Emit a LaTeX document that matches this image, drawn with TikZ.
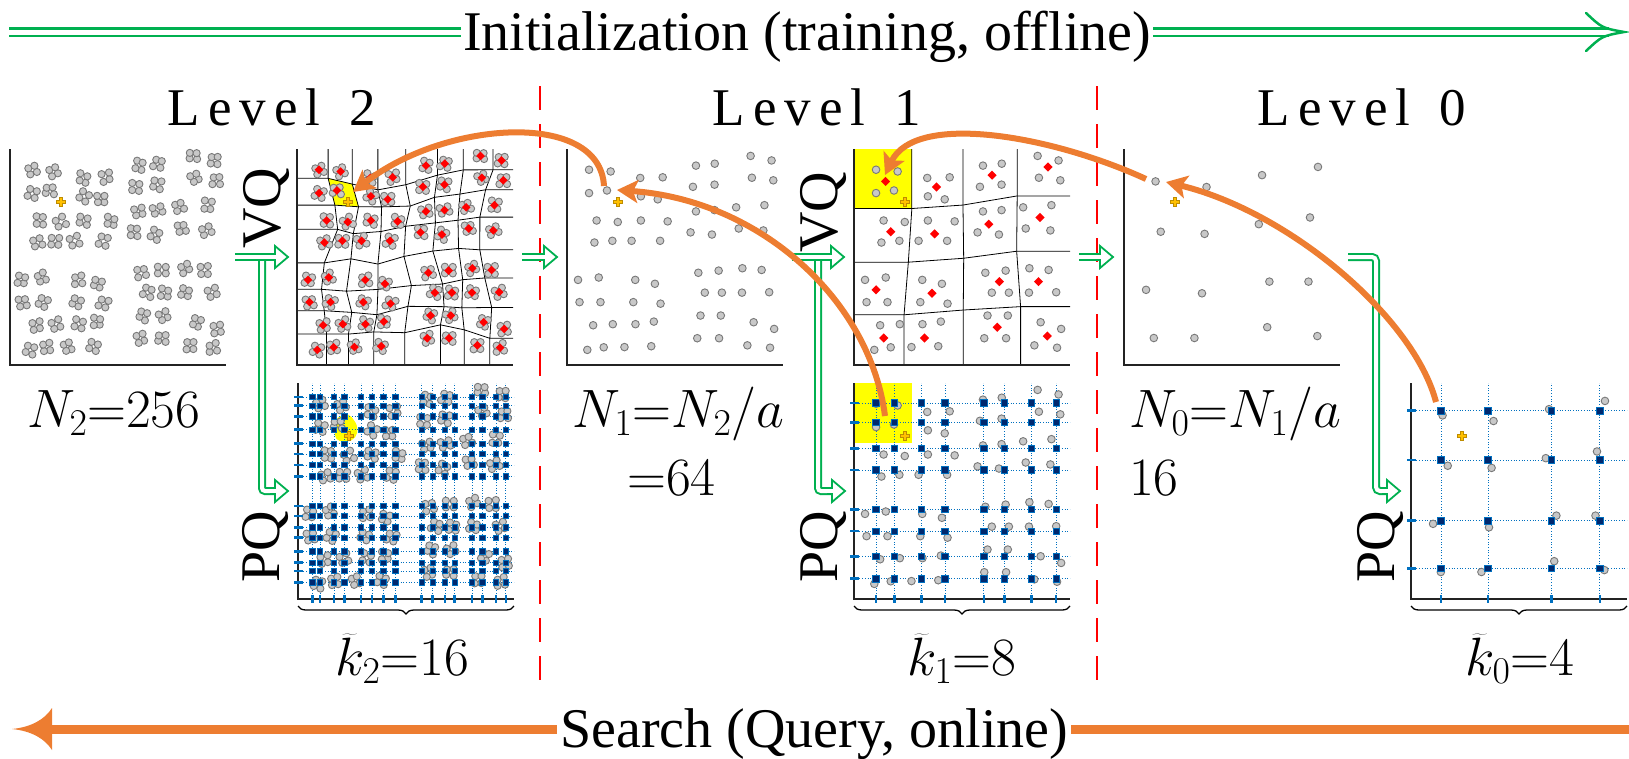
\RequirePackage{fix-cm}
\documentclass[tikz,border=0pt]{standalone}
\usepackage{fontspec}
\setmainfont{Liberation Serif}
\usetikzlibrary{calc,decorations.pathreplacing,arrows.meta}
\definecolor{gr}{RGB}{0,176,80}
\definecolor{orng}{RGB}{237,125,49}
\definecolor{ptfill}{RGB}{200,200,200}
\definecolor{ptedge}{RGB}{120,120,120}
\definecolor{navy}{RGB}{0,40,110}
\definecolor{pqblue}{RGB}{0,112,192}
\definecolor{qfill}{RGB}{255,192,0}
\definecolor{qedge}{RGB}{190,140,0}
\definecolor{yel}{RGB}{255,255,0}
\definecolor{axisc}{RGB}{35,35,35}
% ---------- data ----------
\def\setUV#1#2#3,#4;{\expandafter\xdef\csname U#1-#2\endcsname{#3}\expandafter\xdef\csname V#1-#2\endcsname{#4}}
\def\grpdef#1#2#3#4#5#6{%
 \setUV{\the\numexpr2*#1\relax}{\the\numexpr2*#2+1\relax}#3;%
 \setUV{\the\numexpr2*#1+1\relax}{\the\numexpr2*#2+1\relax}#4;%
 \setUV{\the\numexpr2*#1\relax}{\the\numexpr2*#2\relax}#5;%
 \setUV{\the\numexpr2*#1+1\relax}{\the\numexpr2*#2\relax}#6;}
\grpdef{0}{3}{0.102,0.904}{0.202,0.896}{0.102,0.796}{0.185,0.808}
\grpdef{1}{3}{0.339,0.866}{0.443,0.869}{0.342,0.781}{0.420,0.767}
\grpdef{0}{2}{0.137,0.669}{0.235,0.662}{0.127,0.567}{0.210,0.575}
\grpdef{1}{2}{0.342,0.669}{0.466,0.665}{0.299,0.575}{0.431,0.575}
\grpdef{2}{3}{0.597,0.923}{0.684,0.932}{0.583,0.825}{0.683,0.835}
\grpdef{3}{3}{0.850,0.968}{0.947,0.947}{0.856,0.867}{0.955,0.855}
\grpdef{2}{2}{0.597,0.711}{0.683,0.717}{0.572,0.614}{0.671,0.604}
\grpdef{3}{2}{0.783,0.730}{0.914,0.740}{0.795,0.632}{0.909,0.623}
\grpdef{0}{1}{0.051,0.394}{0.147,0.405}{0.058,0.291}{0.155,0.291}
\grpdef{1}{1}{0.316,0.394}{0.407,0.376}{0.307,0.291}{0.433,0.284}
\grpdef{0}{0}{0.121,0.184}{0.212,0.189}{0.094,0.070}{0.170,0.082}
\grpdef{1}{0}{0.317,0.189}{0.402,0.201}{0.266,0.083}{0.390,0.087}
\grpdef{2}{1}{0.608,0.427}{0.702,0.437}{0.638,0.335}{0.717,0.335}
\grpdef{3}{1}{0.812,0.448}{0.901,0.440}{0.810,0.335}{0.936,0.337}
\grpdef{2}{0}{0.618,0.229}{0.712,0.229}{0.603,0.124}{0.704,0.124}
\grpdef{3}{0}{0.864,0.198}{0.959,0.167}{0.835,0.091}{0.940,0.080}
\def\setA#1#2#3#4{\expandafter\xdef\csname A#1-#2u\endcsname{#3}\expandafter\xdef\csname A#1-#2v\endcsname{#4}}
\setA{0}{3}{0.146}{0.850}\setA{1}{3}{0.382}{0.824}\setA{2}{3}{0.639}{0.879}\setA{3}{3}{0.898}{0.917}
\setA{0}{2}{0.170}{0.617}\setA{1}{2}{0.373}{0.607}\setA{2}{2}{0.624}{0.652}\setA{3}{2}{0.861}{0.683}
\setA{0}{1}{0.102}{0.348}\setA{1}{1}{0.361}{0.332}\setA{2}{1}{0.673}{0.386}\setA{3}{1}{0.854}{0.386}
\setA{0}{0}{0.138}{0.125}\setA{1}{0}{0.326}{0.125}\setA{2}{0}{0.663}{0.175}\setA{3}{0}{0.895}{0.134}
\def\colsC{0.067,0.102,0.166,0.214,0.291,0.342,0.395,0.451,0.573,0.624,0.680,0.725,0.805,0.853,0.917,0.962}
\def\rowsC{0.935,0.895,0.845,0.784,0.719,0.671,0.620,0.567,0.431,0.385,0.331,0.284,0.221,0.168,0.130,0.077}
\def\colsB{0.102,0.187,0.312,0.421,0.601,0.696,0.821,0.936}
\def\rowsB{0.907,0.818,0.696,0.597,0.414,0.314,0.196,0.094}
\def\colsA{0.139,0.357,0.650,0.874}
\def\rowsA{0.872,0.643,0.363,0.141}
% ---------- drawing macros ----------
\newcommand\ptsA[2]{\foreach \I in {0,...,3}{\foreach \J in {0,...,3}{%
  \edef\cu{\csname A\I-\J u\endcsname}\edef\cv{\csname A\I-\J v\endcsname}%
  \draw[pt] ({#1+216*\cu},{#2-216*\cv}) circle[radius=3.8pt];}}}
\newcommand\ptsB[2]{\foreach \I in {0,...,7}{\foreach \J in {0,...,7}{%
  \edef\cu{\csname U\I-\J\endcsname}\edef\cv{\csname V\I-\J\endcsname}%
  \draw[pt] ({#1+216*\cu},{#2-216*\cv}) circle[radius=3.8pt];}}}
\newcommand\ptsC[2]{\pgfmathsetseed{11}%
 \foreach \I in {0,...,7}{\foreach \J in {0,...,7}{%
  \edef\cu{\csname U\I-\J\endcsname}\edef\cv{\csname V\I-\J\endcsname}%
  \pgfmathsetmacro\tha{45+30*rand}%
  \foreach \kk in {0,1,2,3}{%
   \pgfmathsetmacro\ddx{4.8*cos(\tha+90*\kk)+0.8*rand}%
   \pgfmathsetmacro\ddy{4.8*sin(\tha+90*\kk)+0.8*rand}%
   \draw[pt] ({#1+216*\cu+\ddx},{#2-216*\cv+\ddy}) circle[radius=3.6pt];}}}}
\newcommand\dmB[2]{\foreach \I in {0,...,7}{\foreach \J in {0,...,7}{%
  \edef\cu{\csname U\I-\J\endcsname}\edef\cv{\csname V\I-\J\endcsname}%
  \fill[red] ({#1+216*\cu},{#2-216*\cv-4.3}) -- ++(4.3,4.3) -- ++(-4.3,4.3) -- ++(-4.3,-4.3) -- cycle;}}}
\newcommand\dmA[2]{\foreach \I in {0,...,3}{\foreach \J in {0,...,3}{%
  \edef\cu{\csname A\I-\J u\endcsname}\edef\cv{\csname A\I-\J v\endcsname}%
  \fill[red] ({#1+216*\cu},{#2-216*\cv-4.6}) -- ++(4.6,4.6) -- ++(-4.6,4.6) -- ++(-4.6,-4.6) -- cycle;}}}
\newcommand\vorcoordsA[2]{\foreach \I in {0,1,2}{\foreach \J in {0,1,2}{%
  \pgfmathtruncatemacro\In{\I+1}\pgfmathtruncatemacro\Jn{\J+1}%
  \edef\wu{(\csname A\I-\J u\endcsname+\csname A\In-\J u\endcsname+\csname A\I-\Jn u\endcsname+\csname A\In-\Jn u\endcsname)/4}%
  \edef\wv{(\csname A\I-\J v\endcsname+\csname A\In-\J v\endcsname+\csname A\I-\Jn v\endcsname+\csname A\In-\Jn v\endcsname)/4}%
  \coordinate (wA-\I-\J) at ({#1+216*\wu},{#2-216*\wv});}}}
\newcommand\vorcoordsB[2]{\pgfmathsetseed{5}\foreach \I in {0,...,6}{\foreach \J in {0,...,6}{%
  \pgfmathtruncatemacro\In{\I+1}\pgfmathtruncatemacro\Jn{\J+1}%
  \edef\wu{(\csname U\I-\J\endcsname+\csname U\In-\J\endcsname+\csname U\I-\Jn\endcsname+\csname U\In-\Jn\endcsname)/4}%
  \edef\wv{(\csname V\I-\J\endcsname+\csname V\In-\J\endcsname+\csname V\I-\Jn\endcsname+\csname V\In-\Jn\endcsname)/4}%
  \coordinate (wB-\I-\J) at ({#1+216*\wu+3*rand},{#2-216*\wv+3*rand});}}}
\newcommand\vorlinesA[1]{%
 \foreach \J in {0,1,2}{\draw[vor] (wA-0-\J -| #1.west) -- (wA-0-\J) -- (wA-1-\J) -- (wA-2-\J) -- (wA-2-\J -| #1.east);}%
 \foreach \I in {0,1,2}{\draw[vor] (wA-\I-0 |- #1.south) -- (wA-\I-0) -- (wA-\I-1) -- (wA-\I-2) -- (wA-\I-2 |- #1.north);}}
\newcommand\vorlinesB[1]{%
 \foreach \J in {0,...,6}{\draw[vor] (wB-0-\J -| #1.west) \foreach \I in {0,...,6}{-- (wB-\I-\J)} -- (wB-6-\J -| #1.east);}%
 \foreach \I in {0,...,6}{\draw[vor] (wB-\I-0 |- #1.south) \foreach \J in {0,...,6}{-- (wB-\I-\J)} -- (wB-\I-6 |- #1.north);}}
\newcommand\pqgrid[4]{%
 \foreach \qc in #3{\draw[pqline] ({#1+216*\qc},#2) -- ({#1+216*\qc},{#2-216});}%
 \foreach \qr in #4{\draw[pqline] (#1,{#2-216*\qr}) -- ({#1+216},{#2-216*\qr});}}
\newcommand\pqsquares[5]{\foreach \qc in #3{\foreach \qr in #4{%
 \draw[pqsq] ({#1+216*\qc-#5},{#2-216*\qr-#5}) rectangle ({#1+216*\qc+#5},{#2-216*\qr+#5});}}}
\newcommand\pqticks[4]{%
 \foreach \qc in #3{\draw[pqtick] ({#1+216*\qc},{#2-4}) -- ({#1+216*\qc},{#2+4});}%
 \foreach \qr in #4{\draw[pqtick] ({#1-4},{#2-216*\qr}) -- ({#1+5},{#2-216*\qr});}}
\newcommand\axes[1]{\draw[axisl] (#1.north west) -- (#1.south west) -- (#1.south east);}
\newcommand\query[1]{\pic at ($(#1.south west)+(50.8,-163.3)$) {qmark};}
\newcommand\lsp{\kern8pt}
\tikzset{
 pt/.style={fill=ptfill, draw=ptedge, line width=0.9pt},
 axisl/.style={draw=axisc, line width=1.6pt},
 vor/.style={draw=black, line width=0.8pt},
 pqline/.style={draw=pqblue, line width=0.7pt, dotted},
 pqtick/.style={draw=pqblue, line width=2.6pt},
 pqsq/.style={fill=navy, draw=pqblue, line width=0.8pt},
 gline/.style={draw=gr, line width=2pt, double=white, double distance=4pt},
 gtopline/.style={draw=gr, line width=2.5pt, double=white, double distance=5pt},
 sarrow/.style={draw=orng, line width=6pt, -{Stealth[length=21pt,width=23pt,inset=5pt]}},
 redsep/.style={draw=red, line width=2pt, dash pattern=on 24pt off 14pt},
 panel/.style={minimum width=216pt, minimum height=216pt, inner sep=0pt, outer sep=0pt},
 txt/.style={font=\fontsize{56}{62}\selectfont, inner sep=0pt},
 lvl/.style={font=\fontsize{53}{60}\selectfont, inner sep=0pt},
 mth/.style={font=\fontsize{54}{60}\selectfont, inner sep=0pt},
 qmark/.pic={\draw[draw=qedge, fill=qfill, line width=0.6pt] (-1.6,-4.3) -- (1.6,-4.3) -- (1.6,-1.6) -- (4.3,-1.6) -- (4.3,1.6) -- (1.6,1.6) -- (1.6,4.3) -- (-1.6,4.3) -- (-1.6,1.6) -- (-4.3,1.6) -- (-4.3,-1.6) -- (-1.6,-1.6) -- cycle;},
 gtip/.pic={\draw[draw=gr, line width=1.8pt, fill=white] (0,0) -- (-13,-11) -- (-13,11) -- cycle; \draw[gline] (-18,0) -- (-11.8,0);},
 toptip/.pic={\draw[draw=gr, line width=2.5pt, line cap=round] (-38,-19) .. controls (-22,-4) .. (0,0) .. controls (-22,4) .. (-38,19);},
 otip/.pic={\fill[orng] (0,0) .. controls (20,-2) and (33,-10) .. (40,-21) -- (40,21) .. controls (33,10) and (20,2) .. (0,0) -- cycle;}
}
\begin{document}
\begin{tikzpicture}[x=1pt,y=-1pt]
\useasboundingbox (0,0) rectangle (1629,758);
% panels
\node[panel] (d2) at (118,257) {};
\node[panel] (v2) at (405,257) {};
\node[panel] (p2) at (406,491) {};
\node[panel] (d1) at (675,257) {};
\node[panel] (v1) at (962,257) {};
\node[panel] (p1) at (962,491) {};
\node[panel] (d0) at (1232,257) {};
\node[panel] (p0) at (1519,491) {};
\vorcoordsB{297}{365}
\vorcoordsA{854}{365}
% ---- Level 2 data
\ptsC{10}{365}
\axes{d2}\query{d2}
% ---- Level 2 VQ
\fill[yel] (wB-0-5) -- (wB-1-5) -- (wB-1-6) -- (wB-0-6) -- cycle;
\vorlinesB{v2}
\ptsC{297}{365}
\dmB{297}{365}
\axes{v2}\query{v2}
% ---- Level 2 PQ
\fill[yel, rounded corners=5pt] (334.7,418.6) -- (348.8,413) -- (358,426) -- (356.3,438) -- (346.6,442.4) -- (335,440) -- cycle;
\pqgrid{298}{599}\colsC\rowsC
\ptsC{298}{599}
\pqsquares{298}{599}\colsC\rowsC{2.7}
\axes{p2}
\pqticks{298}{599}\colsC\rowsC
\query{p2}
% ---- Level 1 data
\ptsB{567}{365}
\axes{d1}\query{d1}
% ---- Level 1 VQ
\fill[yel] (v1.north west) -- (wA-0-2 |- v1.north) -- (wA-0-2) -- (wA-0-2 -| v1.west) -- cycle;
\vorlinesA{v1}
\ptsB{854}{365}
\dmA{854}{365}
\axes{v1}\query{v1}
% ---- Level 1 PQ
\coordinate (yq) at ($(wA-0-2)+(0,234)$);
\fill[yel] (p1.north west) -- (yq |- p1.north) -- (yq) -- (yq -| p1.west) -- cycle;
\pqgrid{854}{599}\colsB\rowsB
\ptsB{854}{599}
\pqsquares{854}{599}\colsB\rowsB{3.2}
\axes{p1}
\pqticks{854}{599}\colsB\rowsB
\query{p1}
% ---- Level 0 data
\ptsA{1124}{365}
\axes{d0}\query{d0}
% ---- Level 0 PQ
\pqgrid{1411}{599}\colsA\rowsA
\ptsA{1411}{599}
\pqsquares{1411}{599}\colsA\rowsA{3.3}
\axes{p0}
\pqticks{1411}{599}\colsA\rowsA
\query{p0}
% ---- braces
\foreach \pn in {p2,p1,p0}{\draw[line width=1.3pt, decorate, decoration={brace, mirror, amplitude=8pt}] ($(\pn.south west)+(0,7)$) -- ($(\pn.south east)+(0,7)$);}
% ---- red separators
\coordinate (r1a) at (540,86); \coordinate (r1b) at (540,682);
\coordinate (r2a) at (1097,86); \coordinate (r2b) at (1097,682);
\draw[redsep] (r1a) -- (r1b);
\draw[redsep] (r2a) -- (r2b);
% ---- green arrows
\coordinate (g2s) at ($(d2.east)+(9,0)$); \coordinate (g2t) at ($(v2.west)+(-9,0)$);
\coordinate (g2c) at (262,257); \coordinate (g2d) at (262,491); \coordinate (g2u) at ($(p2.west)+(-10,0)$);
\draw[gline, rounded corners=3pt] (g2c) -- (g2d) -- ($(g2u)+(-12,0)$);
\pic at (g2u) {gtip};
\draw[gline] (g2s) -- ($(g2t)+(-12,0)$); \pic at (g2t) {gtip};
\coordinate (gas) at ($(v2.east)+(9,0)$); \coordinate (gat) at ($(d1.west)+(-10,0)$);
\draw[gline] (gas) -- ($(gat)+(-12,0)$); \pic at (gat) {gtip};
\coordinate (g1s) at ($(d1.east)+(9,0)$); \coordinate (g1t) at ($(v1.west)+(-10,0)$);
\coordinate (g1c) at (818,257); \coordinate (g1d) at (818,491); \coordinate (g1u) at ($(p1.west)+(-9,0)$);
\draw[gline, rounded corners=3pt] (g1c) -- (g1d) -- ($(g1u)+(-12,0)$);
\pic at (g1u) {gtip};
\draw[gline] (g1s) -- ($(g1t)+(-12,0)$); \pic at (g1t) {gtip};
\coordinate (gbs) at ($(v1.east)+(9,0)$); \coordinate (gbt) at ($(d0.west)+(-11,0)$);
\draw[gline] (gbs) -- ($(gbt)+(-12,0)$); \pic at (gbt) {gtip};
\coordinate (g0s) at ($(d0.east)+(8,0)$); \coordinate (g0c) at (1376,257); \coordinate (g0d) at (1376,491);
\coordinate (g0u) at ($(p0.west)+(-11,0)$);
\draw[gline, rounded corners=4pt] (g0s) -- (g0c) -- (g0d) -- ($(g0u)+(-12,0)$);
\pic at (g0u) {gtip};
% ---- top arrow
\coordinate (ts) at (9,32); \coordinate (tt) at (1624,32);
\draw[gtopline] (ts) -- ($(tt)+(-15,0)$);
\pic at (tt) {toptip};
\node[txt, fill=white, inner xsep=2pt, anchor=base west] (title) at (461,50) {Initialization (training, offline)};
% ---- level labels
\node[lvl, anchor=base] (lv2) at (272,125) {L\lsp e\lsp v\lsp e\lsp l\lsp\ \lsp 2};
\node[lvl, anchor=base] (lv1) at (817,125) {L\lsp e\lsp v\lsp e\lsp l\lsp\ \lsp 1};
\node[lvl, anchor=base] (lv0) at (1362,125) {L\lsp e\lsp v\lsp e\lsp l\lsp\ \lsp 0};
% ---- VQ / PQ labels
\node[txt, rotate=90] (vq2l) at (266,208) {VQ};
\node[txt, rotate=90] (pq2l) at (265,547) {PQ};
\node[txt, rotate=90] (vq1l) at (823,212) {VQ};
\node[txt, rotate=90] (pq1l) at (823,547) {PQ};
\node[txt, rotate=90] (pq0l) at (1380,547) {PQ};
% ---- math labels
\node[mth, anchor=base west] (n2) at (27,427) {$N_2{=}256$};
\node[mth, anchor=base west] (n1) at (572,427) {$N_1{=}N_2/a$};
\node[mth, anchor=base west] (n1b) at (627,495) {${=}64$};
\node[mth, anchor=base west] (n0) at (1129,427) {$N_0{=}N_1/a$};
\node[mth, anchor=base west] (n0b) at (1129,495) {$16$};
\node[mth, anchor=base west] (k2) at (335,675) {$\widetilde{k}_2{=}16$};
\node[mth, anchor=base west] (k1) at (907,675) {$\widetilde{k}_1{=}8$};
\node[mth, anchor=base west] (k0) at (1465,675) {$\widetilde{k}_0{=}4$};
% ---- search arrows
\coordinate (oa1) at (1436,402); \coordinate (ob1) at (1166,182);
\draw[sarrow] (oa1) .. controls (1414,318) and (1290,212) .. (ob1);
\coordinate (oa2) at (1146,179); \coordinate (ob2) at (885,175);
\draw[sarrow] (oa2) .. controls (1050,135) and (915,112) .. (ob2);
\coordinate (oa3) at (885,416); \coordinate (ob3) at (617,190);
\draw[sarrow] (oa3) .. controls (870,300) and (760,200) .. (ob3);
\coordinate (oa4) at (604,186); \coordinate (ob4) at (353,192);
\draw[sarrow] (oa4) .. controls (600,110) and (445,120) .. (ob4);
% ---- bottom search arrow
\coordinate (sr) at (1629,729); \coordinate (sl) at (50,729); \coordinate (stip) at (12,729);
\draw[draw=orng, line width=9pt] (sr) -- (sl);
\pic at (stip) {otip};
\node[txt, fill=white, inner xsep=3pt, anchor=base west] (search) at (557,747) {Search (Query, online)};
\end{tikzpicture}
\end{document}
